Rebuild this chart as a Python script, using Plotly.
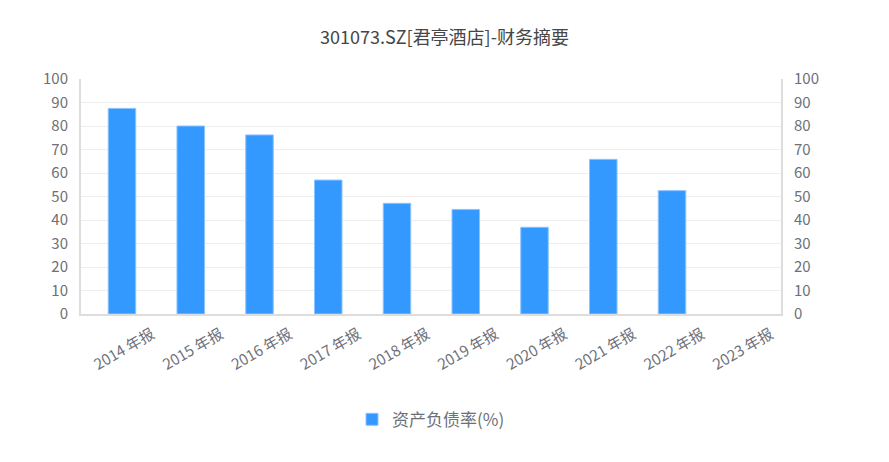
import plotly.graph_objects as go

categories = ["2014 年报", "2015 年报", "2016 年报", "2017 年报", "2018 年报",
              "2019 年报", "2020 年报", "2021 年报", "2022 年报", "2023 年报"]
debt_ratio = [87.5, 80.0, 76.2, 57.0, 47.1, 44.5, 36.9, 65.8, 52.5, None]
y_ticks = [0, 10, 20, 30, 40, 50, 60, 70, 80, 90, 100]

FONT = "Noto Sans CJK SC, Microsoft YaHei, sans-serif"
TICK_COLOR = "#6e7079"

fig = go.Figure()
fig.add_trace(go.Bar(
    x=categories, y=debt_ratio, name="资产负债率(%)",
    marker=dict(color="#3399ff", line=dict(color="#8cc4ff", width=1)),
))
fig.add_trace(go.Scatter(
    x=categories, y=debt_ratio, yaxis="y2", mode="markers",
    marker=dict(opacity=0), showlegend=False, hoverinfo="skip",
))

axis_common = dict(
    range=[0, 100], tickvals=y_ticks, tickfont=dict(size=15, color=TICK_COLOR, family=FONT),
    showline=True, linecolor="#dddddd", linewidth=2, ticks="", zeroline=False,
    ticklabelstandoff=8,
)

fig.update_layout(
    width=889, height=462,
    paper_bgcolor="white", plot_bgcolor="white",
    margin=dict(l=81, r=108, t=79, b=148),
    title=dict(text="301073.SZ[君亭酒店]-财务摘要", x=0.5, xanchor="center",
               y=0.918, yanchor="middle",
               font=dict(size=18, color="#464646", family=FONT)),
    font=dict(family=FONT),
    bargap=0.6,
    xaxis=dict(tickangle=-30, tickfont=dict(size=15, color=TICK_COLOR, family=FONT),
               showline=True, linecolor="#dddddd", linewidth=2, ticks="",
               showgrid=False, ticklabelstandoff=4, ticklabelshift=30,
               range=[-0.596, 9.585]),
    yaxis=dict(**axis_common, showgrid=True, gridcolor="#eeeeee", gridwidth=1),
    yaxis2=dict(**axis_common, overlaying="y", side="right", showgrid=False),
    legend=dict(orientation="h", x=0.5, xanchor="center", y=-0.45, yanchor="middle",
                font=dict(size=17, color=TICK_COLOR, family=FONT)),
)

fig.write_html("out.html", config={"displayModeBar": False},
               post_script="document.body.style.margin='0';")
